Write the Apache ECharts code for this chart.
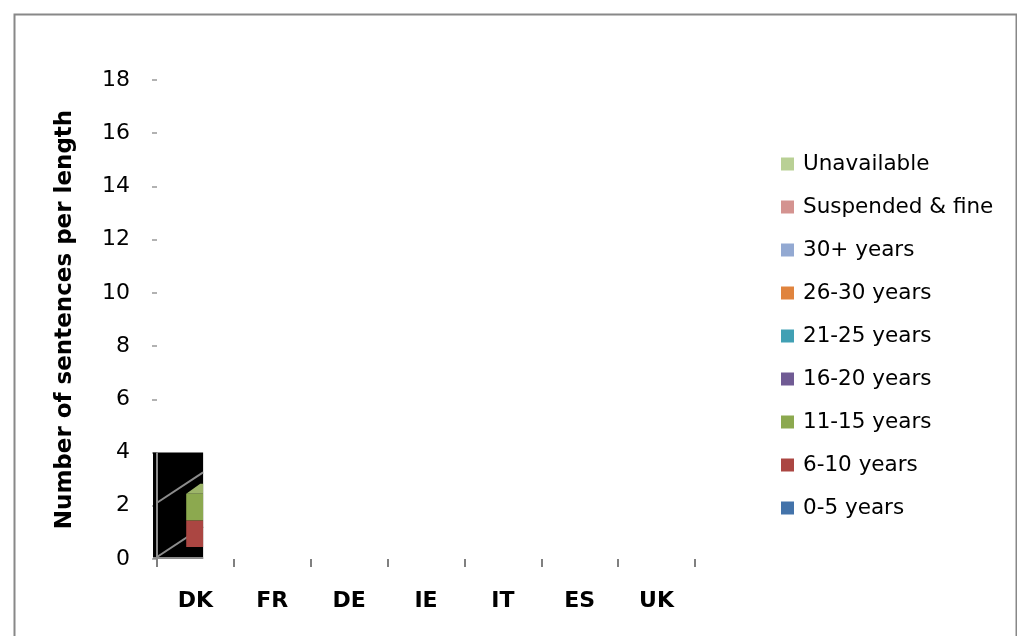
<!DOCTYPE html>
<html><head><meta charset="utf-8">
<script src="https://cdn.jsdelivr.net/npm/echarts@6/dist/echarts.min.js"></script>
<style>html,body{margin:0;padding:0;background:#fff}#c{width:1017px;height:636px}</style>
</head><body><div id="c"></div>
<script>
const categories = ['DK','FR','DE','IE','IT','ES','UK'];
const seriesNames = ['0-5 years','6-10 years','11-15 years','16-20 years','21-25 years','26-30 years','30+ years','Suspended & fine','Unavailable'];
const seriesColors = ['#4373aa','#ab4642','#8ca94f','#705b94','#41a0b4','#e0843e','#93a9d2','#d49390','#b9d095'];
const v0_5      = [0,0,0,0,0,0,0];
const v6_10     = [1,0,0,0,0,0,0];
const v11_15    = [1,0,0,0,0,0,0];
const v16_20    = [0,0,0,0,0,0,0];
const v21_25    = [0,0,0,0,0,0,0];
const v26_30    = [0,0,0,0,0,0,0];
const v30plus   = [0,0,0,0,0,0,0];
const vSuspended= [0,0,0,0,0,0,0];
const vUnavail  = [0,0,0,0,0,0,0];
const seriesValues = [v0_5,v6_10,v11_15,v16_20,v21_25,v26_30,v30plus,vSuspended,vUnavail];
const yTicks = {min:0, max:18, interval:2};
const legendOrder = seriesNames.slice().reverse();

// visible (clipped) 3D plot window, as in the reference
const clipTopValue = 4;        // top of the black window, in axis units
const depthSlope = -0.66;      // receding 3D direction dy/dx
const barDepth = {dx: 14, dy: -10};
const barLift = 12;            // px the bar front is lifted by perspective

const chart = echarts.init(document.getElementById('c'));

function clipInfo(api){
  const p0 = api.coord([0, 0]);
  const bw = api.size([1, 0])[0];
  const pTop = api.coord([0, clipTopValue]);
  return {left: p0[0] - bw/2 - 4, right: p0[0] + bw*0.1, top: pTop[1], bottom: p0[1]};
}

function makeRender(si){
  return function(params, api){
    const ci = api.value(0);
    const val = api.value(1);
    if (!val) return null;
    let base = 0;
    for (let k = 0; k < si; k++) base += seriesValues[k][ci] || 0;
    const pb = api.coord([ci, base]);
    const pt = api.coord([ci, base + val]);
    const bw = api.size([1, 0])[0];
    const clip = clipInfo(api);
    const cx = pb[0];
    let x1 = cx - bw*0.12, x2 = cx + bw*0.3;
    const xr = Math.min(x2, clip.right);
    const yb = pb[1] - barLift, yt = pt[1] - barLift;
    const color = seriesColors[si];
    const children = [];
    if (xr > x1) {
      children.push({type:'rect', shape:{x:x1, y:yt, width:xr-x1, height:yb-yt}, style:{fill:color}});
      let above = 0;
      for (let k = si+1; k < seriesValues.length; k++) above += seriesValues[k][ci] || 0;
      if (above === 0) {
        const pts = [[x1, yt],[xr, yt],[Math.min(xr + barDepth.dx, clip.right), yt + barDepth.dy],[Math.min(x1 + barDepth.dx, clip.right), yt + barDepth.dy]];
        children.push({type:'polygon', shape:{points:pts}, style:{fill: echarts.color.lift(color, 0.15)}});
      }
    }
    return {type:'group', children};
  };
}

function wallRender(params, api){
  if (params.dataIndex !== 0) return null;
  const clip = clipInfo(api);
  const ax = api.coord([0,0]);
  const axisX = ax[0] - api.size([1,0])[0]/2;
  const children = [
    {type:'rect', shape:{x:clip.left, y:clip.top, width:clip.right-clip.left, height:clip.bottom-clip.top}, style:{fill:'#000'}},
    {type:'line', shape:{x1:axisX, y1:clip.top, x2:axisX, y2:clip.bottom}, style:{stroke:'#8c8c8c', lineWidth:2}},
    {type:'line', shape:{x1:clip.left, y1:clip.bottom-1, x2:clip.right, y2:clip.bottom-1}, style:{stroke:'#8c8c8c', lineWidth:2}}
  ];
  for (let t = yTicks.min; t <= yTicks.max; t += yTicks.interval) {
    const y0 = api.coord([0, t])[1] - (t === 0 ? 2 : 3);
    if (y0 <= clip.top + 1) continue;
    let x2 = clip.right, y2 = y0 + depthSlope*(x2 - axisX);
    if (y2 < clip.top) { y2 = clip.top; x2 = axisX + (y2 - y0)/depthSlope; }
    children.push({type:'line', shape:{x1:axisX, y1:y0, x2:x2, y2:y2}, style:{stroke:'#8c8c8c', lineWidth:2}});
  }
  return {type:'group', children};
}

const series = [{
  type:'custom', name:'_wall', renderItem: wallRender, silent:true, z:1,
  data: categories.map((c,i)=>[i,0]), tooltip:{show:false}
}];
seriesNames.forEach((n, si) => {
  series.push({
    type:'custom', name:n, z:3, renderItem: makeRender(si),
    itemStyle:{color: seriesColors[si]},
    data: seriesValues[si].map((v,i)=>[i,v])
  });
});

chart.setOption({
  animation:false,
  textStyle:{fontFamily:'DejaVu Sans'},
  graphic:[{type:'rect', left:12, top:12, shape:{width:1002, height:640}, style:{fill:'none', stroke:'#888', lineWidth:2}}],
  grid:{left:157, right:322, top:80, bottom:77},
  legend:{
    orient:'vertical', left:776, top:148, itemWidth:13, itemHeight:13, itemGap:21,
    icon:'rect', data: legendOrder,
    textStyle:{fontSize:21.5, color:'#000', lineHeight:21, fontFamily:'DejaVu Sans', padding:[0,0,0,4]}
  },
  xAxis:{
    type:'category', data:categories,
    axisLine:{show:false},
    axisTick:{show:true, alignWithLabel:false, length:8, lineStyle:{color:'#808080', width:2}},
    axisLabel:{fontSize:22, fontWeight:'bold', color:'#000', margin:31}
  },
  yAxis:{
    type:'value', min:yTicks.min, max:yTicks.max, interval:yTicks.interval,
    name:'Number of sentences per length', nameLocation:'middle', nameGap:80,
    nameTextStyle:{fontSize:23, fontWeight:'bold', color:'#000'},
    axisLine:{show:false}, splitLine:{show:false},
    axisTick:{show:true, length:5, inside:false, lineStyle:{color:'#999', width:1.5}},
    axisLabel:{fontSize:22, color:'#000', margin:27}
  },
  series: series
});
</script></body></html>
